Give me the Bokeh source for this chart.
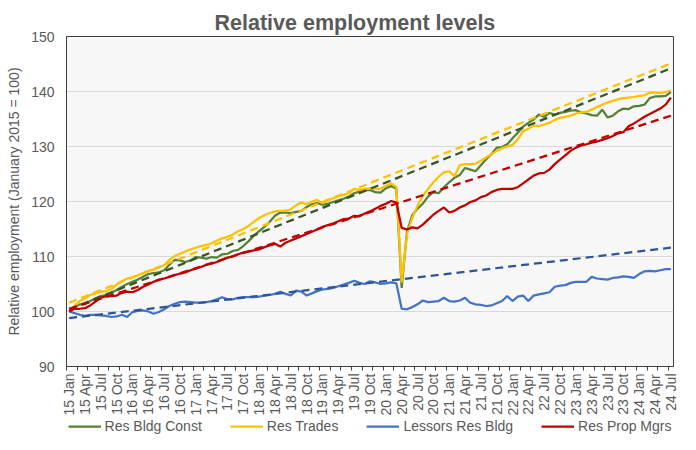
import math
from bokeh.plotting import figure
from bokeh.layouts import column
from bokeh.models import FixedTicker, Legend, LegendItem, Range1d
from bokeh.embed import file_html
from bokeh.resources import INLINE

# ---- data (monthly, Jan 2015 .. Jul 2024; January 2015 = 100) ----
res_bldg_const = [
    100.0, 100.7, 101.3, 101.3, 101.9, 102.4, 102.8, 103.0, 103.4, 103.9, 104.5, 105.0,
    105.4, 105.8, 106.3, 106.8, 107.0, 107.1, 107.5, 108.5, 109.4, 109.3, 109.0, 109.3,
    109.9, 109.8, 109.6, 109.9, 109.8, 110.4, 110.5, 111.0, 111.2, 111.9, 112.8, 113.8,
    114.6, 115.4, 116.3, 117.4, 118.0, 118.0, 117.9, 118.1, 118.3, 119.0, 119.5, 119.7,
    119.4, 119.6, 119.9, 120.2, 120.5, 120.9, 121.5, 121.8, 122.0, 122.1, 121.7, 121.6,
    122.4, 122.8, 122.3, 104.3, 114.5, 117.5, 118.7, 119.6, 120.9, 121.7, 121.5, 122.6,
    123.5, 124.3, 124.8, 126.1, 125.8, 125.5, 126.6, 127.7, 128.6, 129.8, 129.9, 130.4,
    131.5, 132.5, 133.6, 134.3, 134.9, 135.8, 135.4, 136.1, 135.8, 136.1, 136.3, 136.5,
    136.6, 136.2, 136.0, 135.7, 135.6, 136.7, 135.3, 135.6, 136.4, 136.9, 136.8, 137.3,
    137.4, 137.6, 138.8, 139.1, 139.1, 139.2, 139.9,
]
res_trades = [
    100.0, 101.0, 101.9, 102.4, 103.0, 103.3, 103.6, 103.7, 104.1, 104.9, 105.5, 106.0,
    106.2, 106.6, 107.0, 107.4, 107.6, 108.0, 108.4, 109.4, 110.1, 110.5, 110.9, 111.3,
    111.6, 111.9, 112.1, 112.4, 112.9, 113.3, 113.6, 114.0, 114.6, 115.0, 115.6, 116.3,
    117.0, 117.5, 117.9, 118.2, 118.3, 118.3, 118.6, 119.3, 119.8, 119.5, 120.0, 120.3,
    119.7, 120.2, 120.6, 120.9, 121.2, 121.5, 122.3, 122.1, 122.3, 122.4, 122.3, 122.3,
    122.8, 123.3, 122.6, 105.3, 114.0, 117.0, 119.2, 121.0, 122.3, 123.5, 124.5, 125.3,
    125.5, 124.6, 126.6, 126.8, 126.8, 126.9, 127.4, 128.0, 128.6, 129.2, 129.7, 130.0,
    130.3, 131.3, 132.8, 133.2, 133.8, 133.7, 134.0, 134.3, 134.8, 135.2, 135.4, 135.6,
    136.0, 136.2, 136.3, 136.7, 137.2, 137.6, 138.0, 138.3, 138.6, 138.8, 138.9, 139.0,
    139.2, 139.3, 139.8, 139.8, 139.7, 139.9, 140.2,
]
lessors_res_bldg = [
    100.0, 99.7, 99.4, 99.2, 99.4, 99.4, 99.3, 99.2, 99.0, 99.1, 99.4, 99.0,
    99.9, 100.1, 100.2, 100.0, 99.6, 99.9, 100.4, 101.0, 101.4, 101.7, 101.8, 101.7,
    101.6, 101.6, 101.7, 101.9, 102.2, 102.6, 102.2, 102.2, 102.5, 102.6, 102.6, 102.6,
    102.7, 102.9, 103.0, 103.2, 103.6, 103.2, 102.9, 103.8, 103.6, 102.9, 103.3, 103.7,
    104.0, 104.1, 104.3, 104.6, 104.9, 105.2, 105.6, 105.2, 105.0, 105.5, 105.3, 105.0,
    105.1, 105.3, 105.1, 100.5, 100.4, 100.8, 101.3, 102.0, 101.7, 101.8, 101.9, 102.5,
    101.9, 101.8, 102.0, 102.5, 101.6, 101.3, 101.2, 101.0, 101.1, 101.5, 101.9, 102.8,
    101.9, 102.7, 102.9, 101.9, 102.9, 103.1, 103.3, 103.5, 104.5, 104.7, 104.8, 105.2,
    105.4, 105.4, 105.4, 106.3, 106.0, 105.9, 105.8, 106.1, 106.2, 106.4, 106.3, 106.1,
    106.8, 107.3, 107.4, 107.3, 107.5, 107.7, 107.7,
]
res_prop_mgrs = [
    100.0, 100.5, 100.5, 100.6, 101.1, 101.8, 102.5, 102.8, 102.8, 102.9, 103.4, 103.6,
    103.5, 103.9, 104.5, 104.9, 105.4, 105.8, 106.0, 106.3, 106.6, 106.9, 107.1, 107.5,
    107.8, 108.1, 108.5, 108.7, 109.0, 109.4, 109.8, 110.0, 110.4, 110.7, 110.9, 111.1,
    111.3, 111.7, 112.0, 112.3, 111.8, 112.5, 112.9, 113.3, 113.7, 114.1, 114.5, 114.9,
    115.4, 115.7, 116.0, 116.4, 116.8, 116.9, 117.4, 117.3, 117.8, 118.2, 118.7, 119.2,
    119.6, 120.1, 119.8, 115.2, 114.9, 115.3, 115.1, 115.8, 116.7, 117.6, 118.3, 118.9,
    118.0, 118.3, 118.9, 119.3, 119.9, 120.2, 120.8, 121.1, 121.7, 122.1, 122.3, 122.3,
    122.3, 122.6, 123.3, 124.0, 124.7, 125.1, 125.2, 125.8, 126.8, 127.6, 128.4, 129.2,
    129.8, 130.2, 130.4, 130.7, 130.9, 131.2, 131.5, 131.9, 132.4, 132.6, 133.7, 134.2,
    134.8, 135.4, 135.9, 136.4, 136.9, 137.6, 138.9,
]

# linear trend lines: value at first and last month
trend_const = [100.4, 144.2]
trend_trades = [101.6, 145.1]
trend_lessors = [98.8, 111.6]
trend_mgrs = [100.5, 135.6]

tick_labels = [
    "15 Jan", "15 Apr", "15 Jul", "15 Oct", "16 Jan", "16 Apr", "16 Jul", "16 Oct",
    "17 Jan", "17 Apr", "17 Jul", "17 Oct", "18 Jan", "18 Apr", "18 Jul", "18 Oct",
    "19 Jan", "19 Apr", "19 Jul", "19 Oct", "20 Jan", "20 Apr", "20 Jul", "20 Oct",
    "21 Jan", "21 Apr", "21 Jul", "21 Oct", "22 Jan", "22 Apr", "22 Jul", "22 Oct",
    "23 Jan", "23 Apr", "23 Jul", "23 Oct", "24 Jan", "24 Apr", "24 Jul",
]
y_ticks = [90, 100, 110, 120, 130, 140, 150]

n = len(res_bldg_const)
x = list(range(n))
tick_pos = [3 * k for k in range(len(tick_labels))]

FONT = "Liberation Sans"
GREY = "#595959"

p = figure(
    width=680, height=418, output_backend="svg", toolbar_location=None,
    x_range=Range1d(-0.5, n - 0.5), y_range=Range1d(90, 150),
    min_border_left=66, min_border_right=7, min_border_top=36, min_border_bottom=52,
    background_fill_color="#F7F7F7", border_fill_color="white",
    outline_line_color="#404040", outline_line_width=1,
)

p.title.text = "Relative employment levels"
p.title.text_font = FONT
p.title.text_font_size = "21.5px"
p.title.text_font_style = "bold"
p.title.text_color = GREY
p.title.align = "left"
p.title.offset = 148
p.title.standoff = 4

# grid
p.xgrid.grid_line_color = None
p.ygrid.grid_line_color = "#D9D9D9"
p.ygrid.grid_line_width = 1

# y axis
p.yaxis.ticker = FixedTicker(ticks=y_ticks)
p.yaxis.axis_label = "Relative employment (January 2015 = 100)"
p.yaxis.axis_label_text_font = FONT
p.yaxis.axis_label_text_font_size = "14px"
p.yaxis.axis_label_text_font_style = "normal"
p.yaxis.axis_label_text_color = GREY
p.yaxis.axis_label_standoff = 6
p.yaxis.major_label_text_font = FONT
p.yaxis.major_label_text_font_size = "14px"
p.yaxis.major_label_text_color = GREY
p.yaxis.major_label_standoff = 12
p.yaxis.major_tick_line_color = None
p.yaxis.major_tick_out = 0
p.yaxis.major_tick_in = 0
p.yaxis.minor_tick_line_color = None
p.yaxis.axis_line_color = "#404040"

# x axis
minor = [k - 0.5 for k in range(0, n + 1, 2)]
p.xaxis.ticker = FixedTicker(ticks=tick_pos, minor_ticks=minor)
p.xaxis.major_label_overrides = {pos: lab for pos, lab in zip(tick_pos, tick_labels)}
p.xaxis.major_label_orientation = math.pi / 2
p.xaxis.major_label_text_font = FONT
p.xaxis.major_label_text_font_size = "14px"
p.xaxis.major_label_text_color = GREY
p.xaxis.major_label_standoff = 3
p.xaxis.major_tick_line_color = None
p.xaxis.major_tick_out = 0
p.xaxis.major_tick_in = 0
p.xaxis.minor_tick_line_color = "#404040"
p.xaxis.minor_tick_out = 4
p.xaxis.minor_tick_in = 0
p.xaxis.axis_line_color = "#404040"

# series
series = [
    ("Res Bldg Const", res_bldg_const, "#548235"),
    ("Res Trades", res_trades, "#FFC000"),
    ("Lessors Res Bldg", lessors_res_bldg, "#4472C4"),
    ("Res Prop Mgrs", res_prop_mgrs, "#C00000"),
]
for name, vals, col in series:
    p.line(x, vals, line_color=col, line_width=2.25)

trends = [
    (trend_const, "#375623"),
    (trend_trades, "#FFC000"),
    (trend_lessors, "#2F5597"),
    (trend_mgrs, "#C00000"),
]
for vals, col in trends:
    p.line([x[0], x[-1]], vals, line_color=col, line_width=2.25, line_dash="8 5")

# legend strip below the chart (the series are drawn here outside the visible range,
# only so that the legend has renderers to take its keys from)
leg = figure(
    width=680, height=16, output_backend="svg", toolbar_location=None,
    x_range=Range1d(-0.5, n - 0.5), y_range=Range1d(0, 1),
    x_axis_location=None, y_axis_location=None,
    min_border_left=66, min_border_right=7, min_border_top=0, min_border_bottom=0,
    background_fill_color="white", border_fill_color="white", outline_line_color=None,
)
leg.xgrid.visible = False
leg.ygrid.visible = False
items = []
for name, vals, col in series:
    r = leg.line(x, vals, line_color=col, line_width=2.25)
    items.append(LegendItem(label=name, renderers=[r]))
legend = Legend(
    items=items, orientation="horizontal", location="center",
    glyph_width=33, glyph_height=16, label_height=16, label_standoff=4,
    spacing=28, padding=0, margin=0, border_line_color=None,
    background_fill_alpha=0,
    label_text_font=FONT, label_text_font_size="14px", label_text_color=GREY,
)
leg.add_layout(legend)

layout = column(p, leg, spacing=0)
open("out.html", "w").write(file_html(layout, INLINE))
